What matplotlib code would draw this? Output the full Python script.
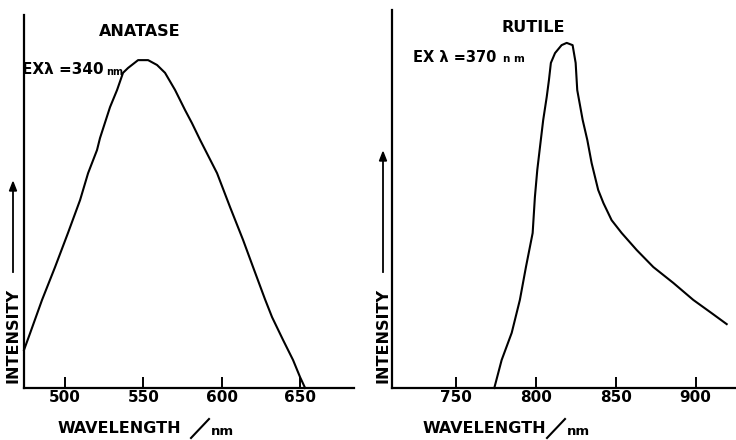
import matplotlib
matplotlib.use("Agg")
import matplotlib.pyplot as plt
from matplotlib.lines import Line2D

# ---- data ----
anatase_wl = [473.8, 474.5, 477.7, 485.3, 493.6, 501.9, 509.6, 514.7, 520.4, 522.3, 528.7, 533.2,
              537.0, 540.2, 546.6, 553.0, 558.7, 563.8, 570.2, 576.6, 581.0, 586.2, 597.0, 605.3,
              613.6, 620.0, 627.6, 632.1, 639.1, 645.5, 650.0, 653.2]
anatase_int = [10.2, 11.0, 14.7, 23.6, 32.4, 41.6, 50.4, 57.6, 63.8, 67.0, 75.3, 79.9,
               84.5, 85.8, 87.9, 87.9, 86.6, 84.5, 79.9, 74.5, 71.0, 66.5, 57.6, 48.5,
               39.7, 32.4, 23.8, 19.0, 12.9, 7.5, 2.9, 0.0]

rutile_wl = [774.0, 778.6, 784.9, 790.0, 793.8, 798.0, 799.4, 800.9, 802.6, 804.6, 806.8, 808.2,
             809.4, 812.0, 816.1, 819.3, 823.0, 824.9, 825.9, 829.3, 832.2, 834.9, 839.0, 842.3,
             847.4, 853.7, 863.1, 873.5, 886.0, 898.5, 910.0, 919.4]
rutile_int = [0.0, 7.4, 14.6, 23.3, 32.0, 41.0, 50.5, 57.7, 63.8, 70.9, 77.0, 81.5,
              86.0, 88.6, 90.7, 91.3, 90.7, 86.0, 78.8, 70.9, 65.6, 59.5, 52.4, 48.9,
              44.4, 41.0, 36.5, 32.0, 27.8, 23.3, 19.8, 16.9]

anatase_ticks = [500, 550, 600, 650]
rutile_ticks = [750, 800, 850, 900]

anatase_title = "ANATASE"
rutile_title = "RUTILE"
anatase_ex = "340"
rutile_ex = "370"

W, H = 736, 440
fig = plt.figure(figsize=(W / 100, H / 100), dpi=100)

def fx(x):
    return x / W

def fy(y):
    return 1 - y / H

def make_axes(x0, x1, ytop, xlim):
    ax = fig.add_axes([fx(x0), fy(388), fx(x1) - fx(x0), fy(ytop) - fy(388)])
    ax.set_xlim(*xlim)
    ax.set_ylim(0, 100)
    for s in ("top", "right"):
        ax.spines[s].set_visible(False)
    for s in ("left", "bottom"):
        ax.spines[s].set_linewidth(1.6)
        ax.spines[s].set_color("black")
    ax.set_yticks([])
    ax.tick_params(axis="x", direction="in", length=8, width=1.4, pad=1.5,
                   labelsize=11, colors="black")
    ax.set_facecolor("white")
    return ax

ax1 = make_axes(24, 354, 15, (473.8, 684.4))
ax1.plot(anatase_wl, anatase_int, color="black", lw=1.5, clip_on=False, solid_joinstyle="round")
ax1.set_xticks(anatase_ticks)
ax1.set_xticklabels([str(t) for t in anatase_ticks], fontweight="bold")

ax2 = make_axes(392, 735, 10, (710.0, 924.6))
ax2.plot(rutile_wl, rutile_int, color="black", lw=1.5, clip_on=False, solid_joinstyle="round")
ax2.set_xticks(rutile_ticks)
ax2.set_xticklabels([str(t) for t in rutile_ticks], fontweight="bold")

# titles
fig.text(fx(140), fy(32), anatase_title, ha="center", va="center", fontsize=11.5, fontweight="bold")
fig.text(fx(533), fy(28), rutile_title, ha="center", va="center", fontsize=11.5, fontweight="bold")

# excitation labels
fig.text(fx(22), fy(70), "EXλ =" + anatase_ex, ha="left", va="center", fontsize=11, fontweight="bold")
fig.text(fx(106), fy(72), "nm", ha="left", va="center", fontsize=7, fontweight="bold")
fig.text(fx(413), fy(58), "EX λ =" + rutile_ex, ha="left", va="center", fontsize=10.5, fontweight="bold")
fig.text(fx(503), fy(59), "n m", ha="left", va="center", fontsize=7.5, fontweight="bold")

# intensity labels and arrows
for xa, yhead in ((13, 182), (383, 152)):
    fig.text(fx(xa), fy(335), "INTENSITY", rotation=90, ha="center", va="center",
             fontsize=11.5, fontweight="bold")
    fig.add_artist(Line2D([fx(xa), fx(xa)], [fy(272), fy(yhead + 8)], color="black", lw=1.3,
                          transform=fig.transFigure))
    fig.patches.append(plt.Polygon([[fx(xa - 3.5), fy(yhead + 9)], [fx(xa + 3.5), fy(yhead + 9)],
                                    [fx(xa), fy(yhead)]], closed=True, color="black",
                                   transform=fig.transFigure, figure=fig))

# wavelength labels
for x0, xs0, xs1, xn in ((58, 191, 209, 211), (423, 547, 565, 567)):
    fig.text(fx(x0), fy(428), "WAVELENGTH", ha="left", va="center", fontsize=11.5, fontweight="bold")
    fig.add_artist(Line2D([fx(xs0), fx(xs1)], [fy(438), fy(419)], color="black", lw=1.5,
                          transform=fig.transFigure))
    fig.text(fx(xn), fy(431), "nm", ha="left", va="center", fontsize=9.5, fontweight="bold")

fig.savefig("out.png", dpi=100, facecolor="white")
